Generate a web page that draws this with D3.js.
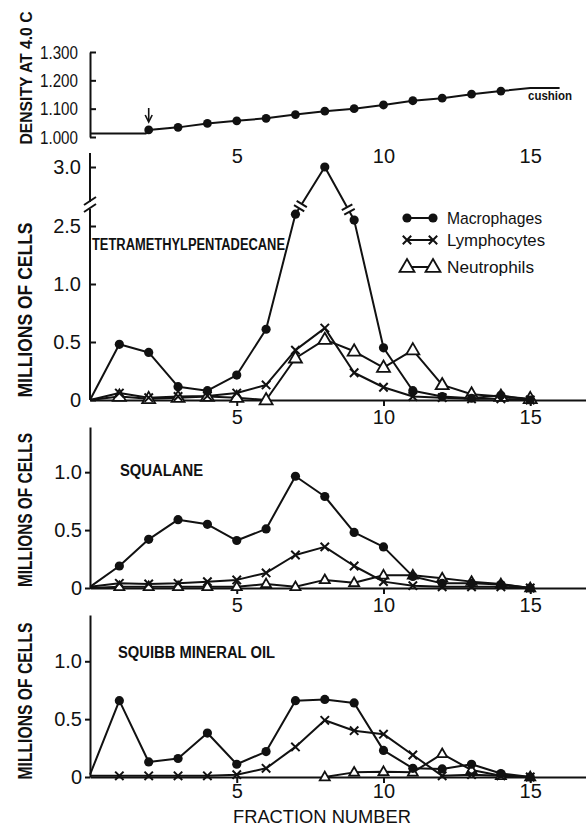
<!DOCTYPE html>
<html><head><meta charset="utf-8">
<script src="https://cdn.jsdelivr.net/npm/d3@7/dist/d3.min.js"></script>
<style>
body{margin:0;background:#fff}
svg{display:block}
text{font-family:"Liberation Sans",Arial,sans-serif;fill:#111}
</style>
</head><body>
<svg id="c" width="586" height="828"></svg>
<script>
// ---------------- data ----------------
const fractions = [0,1,2,3,4,5,6,7,8,9,10,11,12,13,14,15];
const xTicks = [5,10,15];

const densityFractions = [0,1.9,2,3,4,5,6,7,8,9,10,11,12,13,14,15,16];
const densityValues = [1.012,1.012,1.025,1.034,1.048,1.057,1.066,1.079,1.091,1.100,1.113,1.128,1.137,1.151,1.162,1.173,1.173];
const densityMarked = [2,3,4,5,6,7,8,9,10,11,12,13,14];
const densityTicks = [1.0,1.1,1.2,1.3];
const densityTickLabels = ["1.000","1.100","1.200","1.300"];

const brokenTicks = [0,0.5,1.0,2.5,3.0];
const brokenTickLabels = ["0","0.5","1.0","2.5","3.0"];
const cellTicks = [0,0.5,1.0];
const cellTickLabels = ["0","0.5","1.0"];

const seriesNames = ["Macrophages","Lymphocytes","Neutrophils"];

// Tetramethylpentadecane
const tmpdMacrophages = [0,0.48,0.41,0.115,0.08,0.215,0.61,2.6,3.0,2.55,0.45,0.08,0.03,0.015,0.04,0];
const tmpdLymphocytes = [0,0.06,0.02,0.03,0.035,0.06,0.13,0.43,0.62,0.235,0.11,0.03,0.02,0.01,0.01,0];
const tmpdNeutrophils = [0,0.03,0.01,0.02,0.03,0.02,0.0,0.36,0.52,0.42,0.28,0.43,0.13,0.05,0.03,0.01];

// Squalane
const squaMacrophages = [0.01,0.19,0.42,0.59,0.55,0.41,0.51,0.965,0.79,0.48,0.355,0.10,0.04,0.04,0.03,0];
const squaLymphocytes = [0.01,0.04,0.035,0.04,0.055,0.07,0.13,0.285,0.355,0.19,0.055,0.02,0.01,0.01,0.01,0];
const squaNeutrophils = [0,0.01,0.01,0.01,0.01,0.01,0.035,0.01,0.07,0.045,0.11,0.11,0.085,0.055,0.035,0];

// Squibb mineral oil
const squiMacrophages = [0.02,0.66,0.13,0.16,0.38,0.11,0.22,0.66,0.67,0.64,0.23,0.075,0.07,0.11,0.03,0];
const squiLymphocytes = [0.01,0.01,0.01,0.01,0.01,0.02,0.075,0.26,0.49,0.40,0.37,0.19,0.01,0.02,0.01,0];
const squiNeutrophils = [null,null,null,null,null,null,null,null,0,0.04,0.045,0.04,0.2,0.06,0.01,0];

// ---------------- drawing ----------------
const svg = d3.select("#c");
const INK = "#111";
const x = d3.scaleLinear().domain([0,16.9]).range([90,586]);

function marker(g, type, cx, cy, size) {
  if (type === "dot") {
    g.append("circle").attr("cx",cx).attr("cy",cy).attr("r",size).attr("fill",INK);
  } else if (type === "x") {
    const s = size;
    g.append("path").attr("d",`M${cx-s},${cy-s}L${cx+s},${cy+s}M${cx-s},${cy+s}L${cx+s},${cy-s}`)
      .attr("stroke",INK).attr("stroke-width",2).attr("fill","none");
  } else {
    const s = size;
    const h = s*Math.sqrt(3)/2;
    g.append("path").attr("d",`M${cx},${cy-h*0.62}L${cx+s/2},${cy+h*0.38}L${cx-s/2},${cy+h*0.38}Z`)
      .attr("stroke",INK).attr("stroke-width",1.8).attr("fill","#fff").attr("stroke-linejoin","miter");
  }
}

function styleAxis(g) {
  g.selectAll("path.domain").attr("stroke",INK).attr("stroke-width",2);
  g.selectAll(".tick line").attr("stroke",INK).attr("stroke-width",2);
  g.selectAll("text").attr("font-size",20).attr("fill",INK).style("font-family",'"Liberation Sans",Arial,sans-serif');
}

function bottomAxis(y0, pad) {
  const g = svg.append("g").attr("transform",`translate(0,${y0})`)
    .call(d3.axisBottom(x).tickValues(xTicks).tickFormat(d3.format("d")).tickSize(6).tickSizeOuter(0).tickPadding(pad));
  styleAxis(g);
  return g;
}

function drawSeries(g, y, mac, lym, neu, triSize) {
  const series = [
    {vals: neu, type: "tri", size: triSize},
    {vals: lym, type: "x", size: 4.2},
    {vals: mac, type: "dot", size: 4.6}
  ];
  const line = d3.line().defined(d => d.v != null).x(d => x(d.f)).y(d => y(d.v));
  series.forEach(s => {
    const pts = fractions.map((f,i) => ({f, v: s.vals[i]}));
    g.append("path").datum(pts).attr("d",line).attr("fill","none")
      .attr("stroke",INK).attr("stroke-width",2).attr("stroke-linejoin","round");
  });
  series.forEach(s => {
    fractions.forEach((f,i) => {
      if (f === 0 || s.vals[i] == null) return;
      marker(g, s.type, x(f), y(s.vals[i]), s.size);
    });
  });
}

function yLabel(text, cx, cy, len, size) {
  svg.append("text").attr("transform",`translate(${cx},${cy}) rotate(-90)`)
    .attr("text-anchor","middle").attr("font-size",size).attr("font-weight","bold")
    .attr("textLength",len).attr("lengthAdjust","spacingAndGlyphs").text(text);
}

// ---- Panel 1: density ----
const yD = d3.scaleLinear().domain([1.0,1.3]).range([137,52]);
{
  const ga = svg.append("g").attr("transform","translate(90,0)")
    .call(d3.axisLeft(yD).tickValues(densityTicks).tickFormat((d,i)=>densityTickLabels[i]).tickSize(-6).tickSizeOuter(0).tickPadding(12));
  styleAxis(ga);
  ga.selectAll("text").attr("font-size",19).attr("textLength",38).attr("lengthAdjust","spacingAndGlyphs");
  const gl = svg.append("g").attr("transform","translate(0,149)")
    .call(d3.axisBottom(x).tickValues(xTicks).tickFormat(d3.format("d")).tickSize(0).tickPadding(0));
  styleAxis(gl);
  gl.select("path.domain").remove();
  const pts = densityFractions.map((f,i)=>({f, v: densityValues[i]}));
  svg.append("path").datum(pts).attr("fill","none").attr("stroke",INK).attr("stroke-width",2)
    .attr("d", d3.line().x(d=>x(d.f)).y(d=>yD(d.v)));
  densityFractions.forEach((f,i) => {
    if (densityMarked.includes(f)) marker(svg, "dot", x(f), yD(densityValues[i]), 4.4);
  });
  // arrow marking the load position (fraction 2)
  const ax = x(2);
  svg.append("path").attr("d",`M${ax},108L${ax},121`).attr("stroke",INK).attr("stroke-width",1.6);
  svg.append("path").attr("d",`M${ax-3.5},115L${ax},122L${ax+3.5},115`).attr("stroke",INK).attr("stroke-width",1.6).attr("fill","none");
  svg.append("text").attr("x",528).attr("y",100).attr("font-size",13).attr("font-weight","bold")
    .attr("textLength",44).attr("lengthAdjust","spacingAndGlyphs").text("cushion");
  yLabel("DENSITY AT 4.0 C", 32, 78, 133, 17);
}

// ---- Panel 2: tetramethylpentadecane (broken axis) ----
const y2 = d3.scaleLinear().domain([0,1.0,2.5,3.0,3.12]).range([400,284,226,167,153]);
{
  const ga = svg.append("g").attr("transform","translate(90,0)")
    .call(d3.axisLeft(y2).tickValues(brokenTicks).tickFormat((d,i)=>brokenTickLabels[i]).tickSize(-6).tickSizeOuter(0).tickPadding(9));
  styleAxis(ga);
  ga.select("path.domain").remove();
  const bY = y2(2.5) - 20;
  svg.append("path").attr("d",`M90,${y2(3.12)}L90,${bY-4}M90,${bY+3}L90,${y2(0)}`).attr("stroke",INK).attr("stroke-width",2);
  svg.append("path").attr("d",`M84,${bY-1}L96,${bY-9}M84,${bY+6}L96,${bY-2}`).attr("stroke",INK).attr("stroke-width",2);
  bottomAxis(400, 4);
  const g = svg.append("g");
  drawSeries(g, y2, tmpdMacrophages, tmpdLymphocytes, tmpdNeutrophils, 13);
  // break marks on the macrophage line
  const p7 = [x(7), y2(tmpdMacrophages[7])], p8 = [x(8), y2(tmpdMacrophages[8])], p9 = [x(9), y2(tmpdMacrophages[9])];
  [[p7,p8,0.17],[p9,p8,0.2]].forEach(([a,b,t]) => {
    const dx=b[0]-a[0], dy=b[1]-a[1], L=Math.hypot(dx,dy), ux=dx/L, uy=dy/L;
    const cx=a[0]+dx*t, cy=a[1]+dy*t, nx=-uy, ny=ux;
    svg.append("path").attr("d",`M${cx-ux*2.5},${cy-uy*2.5}L${cx+ux*2.5},${cy+uy*2.5}`).attr("stroke","#fff").attr("stroke-width",4);
    [-2.5,2.5].forEach(o => {
      const px=cx+ux*o, py=cy+uy*o;
      svg.append("path").attr("d",`M${px-nx*6},${py-ny*6}L${px+nx*6},${py+ny*6}`).attr("stroke",INK).attr("stroke-width",2);
    });
  });
  svg.append("text").attr("x",92).attr("y",250).attr("font-size",16).attr("font-weight","bold")
    .attr("textLength",193).attr("lengthAdjust","spacingAndGlyphs").text("TETRAMETHYLPENTADECANE");
  yLabel("MILLIONS OF CELLS", 32, 310, 175, 21);
  // legend
  const lg = svg.append("g");
  const rows = [{t:"dot",y:218,size:4.6,len:95},{t:"x",y:240,size:4.2,len:98},{t:"tri",y:267,size:15,len:87}];
  rows.forEach((r,i) => {
    const x1 = 407, x2 = 433;
    lg.append("path").attr("d",`M${x1},${r.y}L${x2},${r.y}`).attr("stroke",INK).attr("stroke-width",2);
    marker(lg, r.t, x1, r.y, r.size);
    marker(lg, r.t, x2, r.y, r.size);
    lg.append("text").attr("x",447).attr("y",r.y+6).attr("font-size",17)
      .attr("textLength",r.len).attr("lengthAdjust","spacingAndGlyphs").text(seriesNames[i]);
  });
}

// ---- Panel 3: squalane ----
const y3 = d3.scaleLinear().domain([0,1.39]).range([588,427]);
{
  const ga = svg.append("g").attr("transform","translate(90,0)")
    .call(d3.axisLeft(y3).tickValues(cellTicks).tickFormat((d,i)=>cellTickLabels[i]).tickSize(5).tickSizeOuter(0).tickPadding(3));
  styleAxis(ga);
  bottomAxis(588, 4);
  drawSeries(svg.append("g"), y3, squaMacrophages, squaLymphocytes, squaNeutrophils, 10);
  svg.append("text").attr("x",120).attr("y",475.5).attr("font-size",16).attr("font-weight","bold")
    .attr("textLength",83).attr("lengthAdjust","spacingAndGlyphs").text("SQUALANE");
  yLabel("MILLIONS OF CELLS", 32, 510, 154, 21);
}

// ---- Panel 4: Squibb mineral oil ----
const y4 = d3.scaleLinear().domain([0,1.4]).range([777,615]);
{
  const ga = svg.append("g").attr("transform","translate(90,0)")
    .call(d3.axisLeft(y4).tickValues(cellTicks).tickFormat((d,i)=>cellTickLabels[i]).tickSize(5).tickSizeOuter(0).tickPadding(3));
  styleAxis(ga);
  bottomAxis(777, 1);
  drawSeries(svg.append("g"), y4, squiMacrophages, squiLymphocytes, squiNeutrophils, 10);
  svg.append("text").attr("x",118).attr("y",657.5).attr("font-size",16).attr("font-weight","bold")
    .attr("textLength",157).attr("lengthAdjust","spacingAndGlyphs").text("SQUIBB MINERAL OIL");
  yLabel("MILLIONS OF CELLS", 32, 701, 157, 21);
  svg.append("text").attr("x",322).attr("y",823).attr("text-anchor","middle").attr("font-size",19)
    .attr("textLength",178).attr("lengthAdjust","spacingAndGlyphs").text("FRACTION NUMBER");
}
</script>
</body></html>
